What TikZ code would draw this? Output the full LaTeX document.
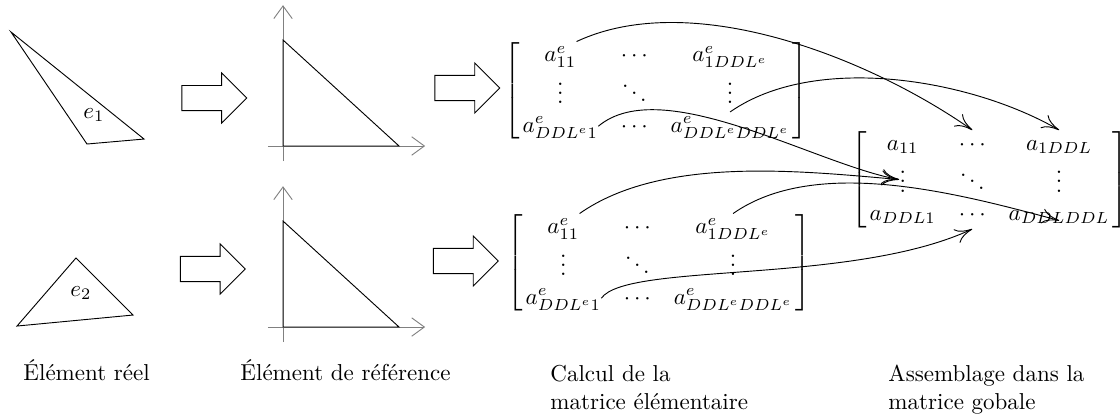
\documentclass[tikz,border=0pt]{standalone}
\usepackage{fontspec}
\usepackage{amsmath,amssymb}
\usepackage{tikz}
\usetikzlibrary{arrows.meta,positioning,shapes.arrows,matrix,calc}
\newcommand{\vpts}{\raisebox{-3pt}{$\vdots$}}
\newcommand{\dpts}{\raisebox{-3pt}{$\ddots$}}

\begin{document}
\begin{tikzpicture}[>={To[length=7.5pt,width=6.5pt]}]
\tikzset{bloc/.style={single arrow, draw, fill=white, minimum height=0.99cm, inner xsep=0pt, inner ysep=0.185cm, single arrow head extend=0.19cm}}
\tikzset{axe/.style={draw=gray, -{Straight Barb[length=5.5pt,width=8pt]}}}
\tikzset{mat/.style={matrix of math nodes, left delimiter={[}, right delimiter={]}, inner sep=0pt, column sep=10pt, row sep={15.3pt,between origins}, nodes={text height=8.5pt, text depth=3.5pt, inner sep=0pt}}}
\tikzset{legende/.style={inner sep=0pt, align=left}}
\useasboundingbox (0,0) rectangle (17.1,6.306);
% elements reels
\draw (0.168,5.817) -- (1.328,4.107) -- (2.199,4.183) -- cycle;
\node (e1) at (1.435,4.550) {$e_1$};
\draw (1.160,2.367) -- (0.260,1.328) -- (2.031,1.496) -- cycle;
\node (e2) at (1.237,1.832) {$e_2$};
\node[bloc] (f1) at (3.176,4.809) {};
\node[bloc] (f2) at (3.153,2.199) {};
% elements de reference
\coordinate (o1) at (4.321,4.077);
\coordinate (o2) at (4.321,1.313);
\foreach \o in {o1,o2}{
  \draw[axe] ($(\o)+(-0.23,0)$) -- ($(\o)+(2.17,0)$);
  \draw[axe] ($(\o)+(0,-0.23)$) -- ($(\o)+(0,2.15)$);
  \draw (\o) -- ($(\o)+(0,1.618)$) -- ($(\o)+(1.771,0)$) -- cycle;
}
\node[bloc] (f3) at (7.039,4.962) {};
\node[bloc] (f4) at (7.016,2.321) {};
% matrices elementaires
\matrix[mat] (m1) at (10.016,4.916) {
a^e_{11} & \cdots & a^e_{1DDL^e}\\
\vpts & \dpts & \vpts\\
a^e_{DDL^e1} & \cdots & a^e_{DDL^eDDL^e}\\
};
\matrix[mat] (m2) at (10.062,2.290) {
a^e_{11} & \cdots & a^e_{1DDL^e}\\
\vpts & \dpts & \vpts\\
a^e_{DDL^e1} & \cdots & a^e_{DDL^eDDL^e}\\
};
% matrice globale
\matrix[mat] (mg) at (15.108,3.565) {
a_{11} & \cdots & a_{1DDL}\\
\vpts & \dpts & \vpts\\
a_{DDL1} & \cdots & a_{DDLDDL}\\
};
\draw[->] (m1-1-1.north east) to[out=25,in=145,looseness=0.8] (mg-1-2.north);
\draw[->] (m1-3-3.north) to[out=35,in=150,looseness=0.8] (mg-1-3.north);
\draw[->] (m1-3-1.east) to[out=40,in=170,looseness=0.7] (mg-2-1.west);
\draw[->] (m2-1-1.north east) to[out=35,in=175,looseness=0.8] (mg-2-1.west);
\draw[->] (m2-1-3.north) to[out=35,in=165,looseness=0.8] (mg-3-3.base);
\draw[->] (m2-3-1.east) to[out=55,in=205,out looseness=0.3,in looseness=0.9] (mg-3-2.south);
% legendes
\node[legende, anchor=base west] (t1) at (0.351,0.504) {Élément réel};
\node[legende, anchor=base west] (t2) at (3.664,0.504) {Élément de référence};
\node[legende, anchor=north west] (t3) at (8.397,0.734) {Calcul de la\\matrice élémentaire};
\node[legende, anchor=north west] (t4) at (13.558,0.734) {Assemblage dans la\\matrice gobale};
\end{tikzpicture}
\end{document}
